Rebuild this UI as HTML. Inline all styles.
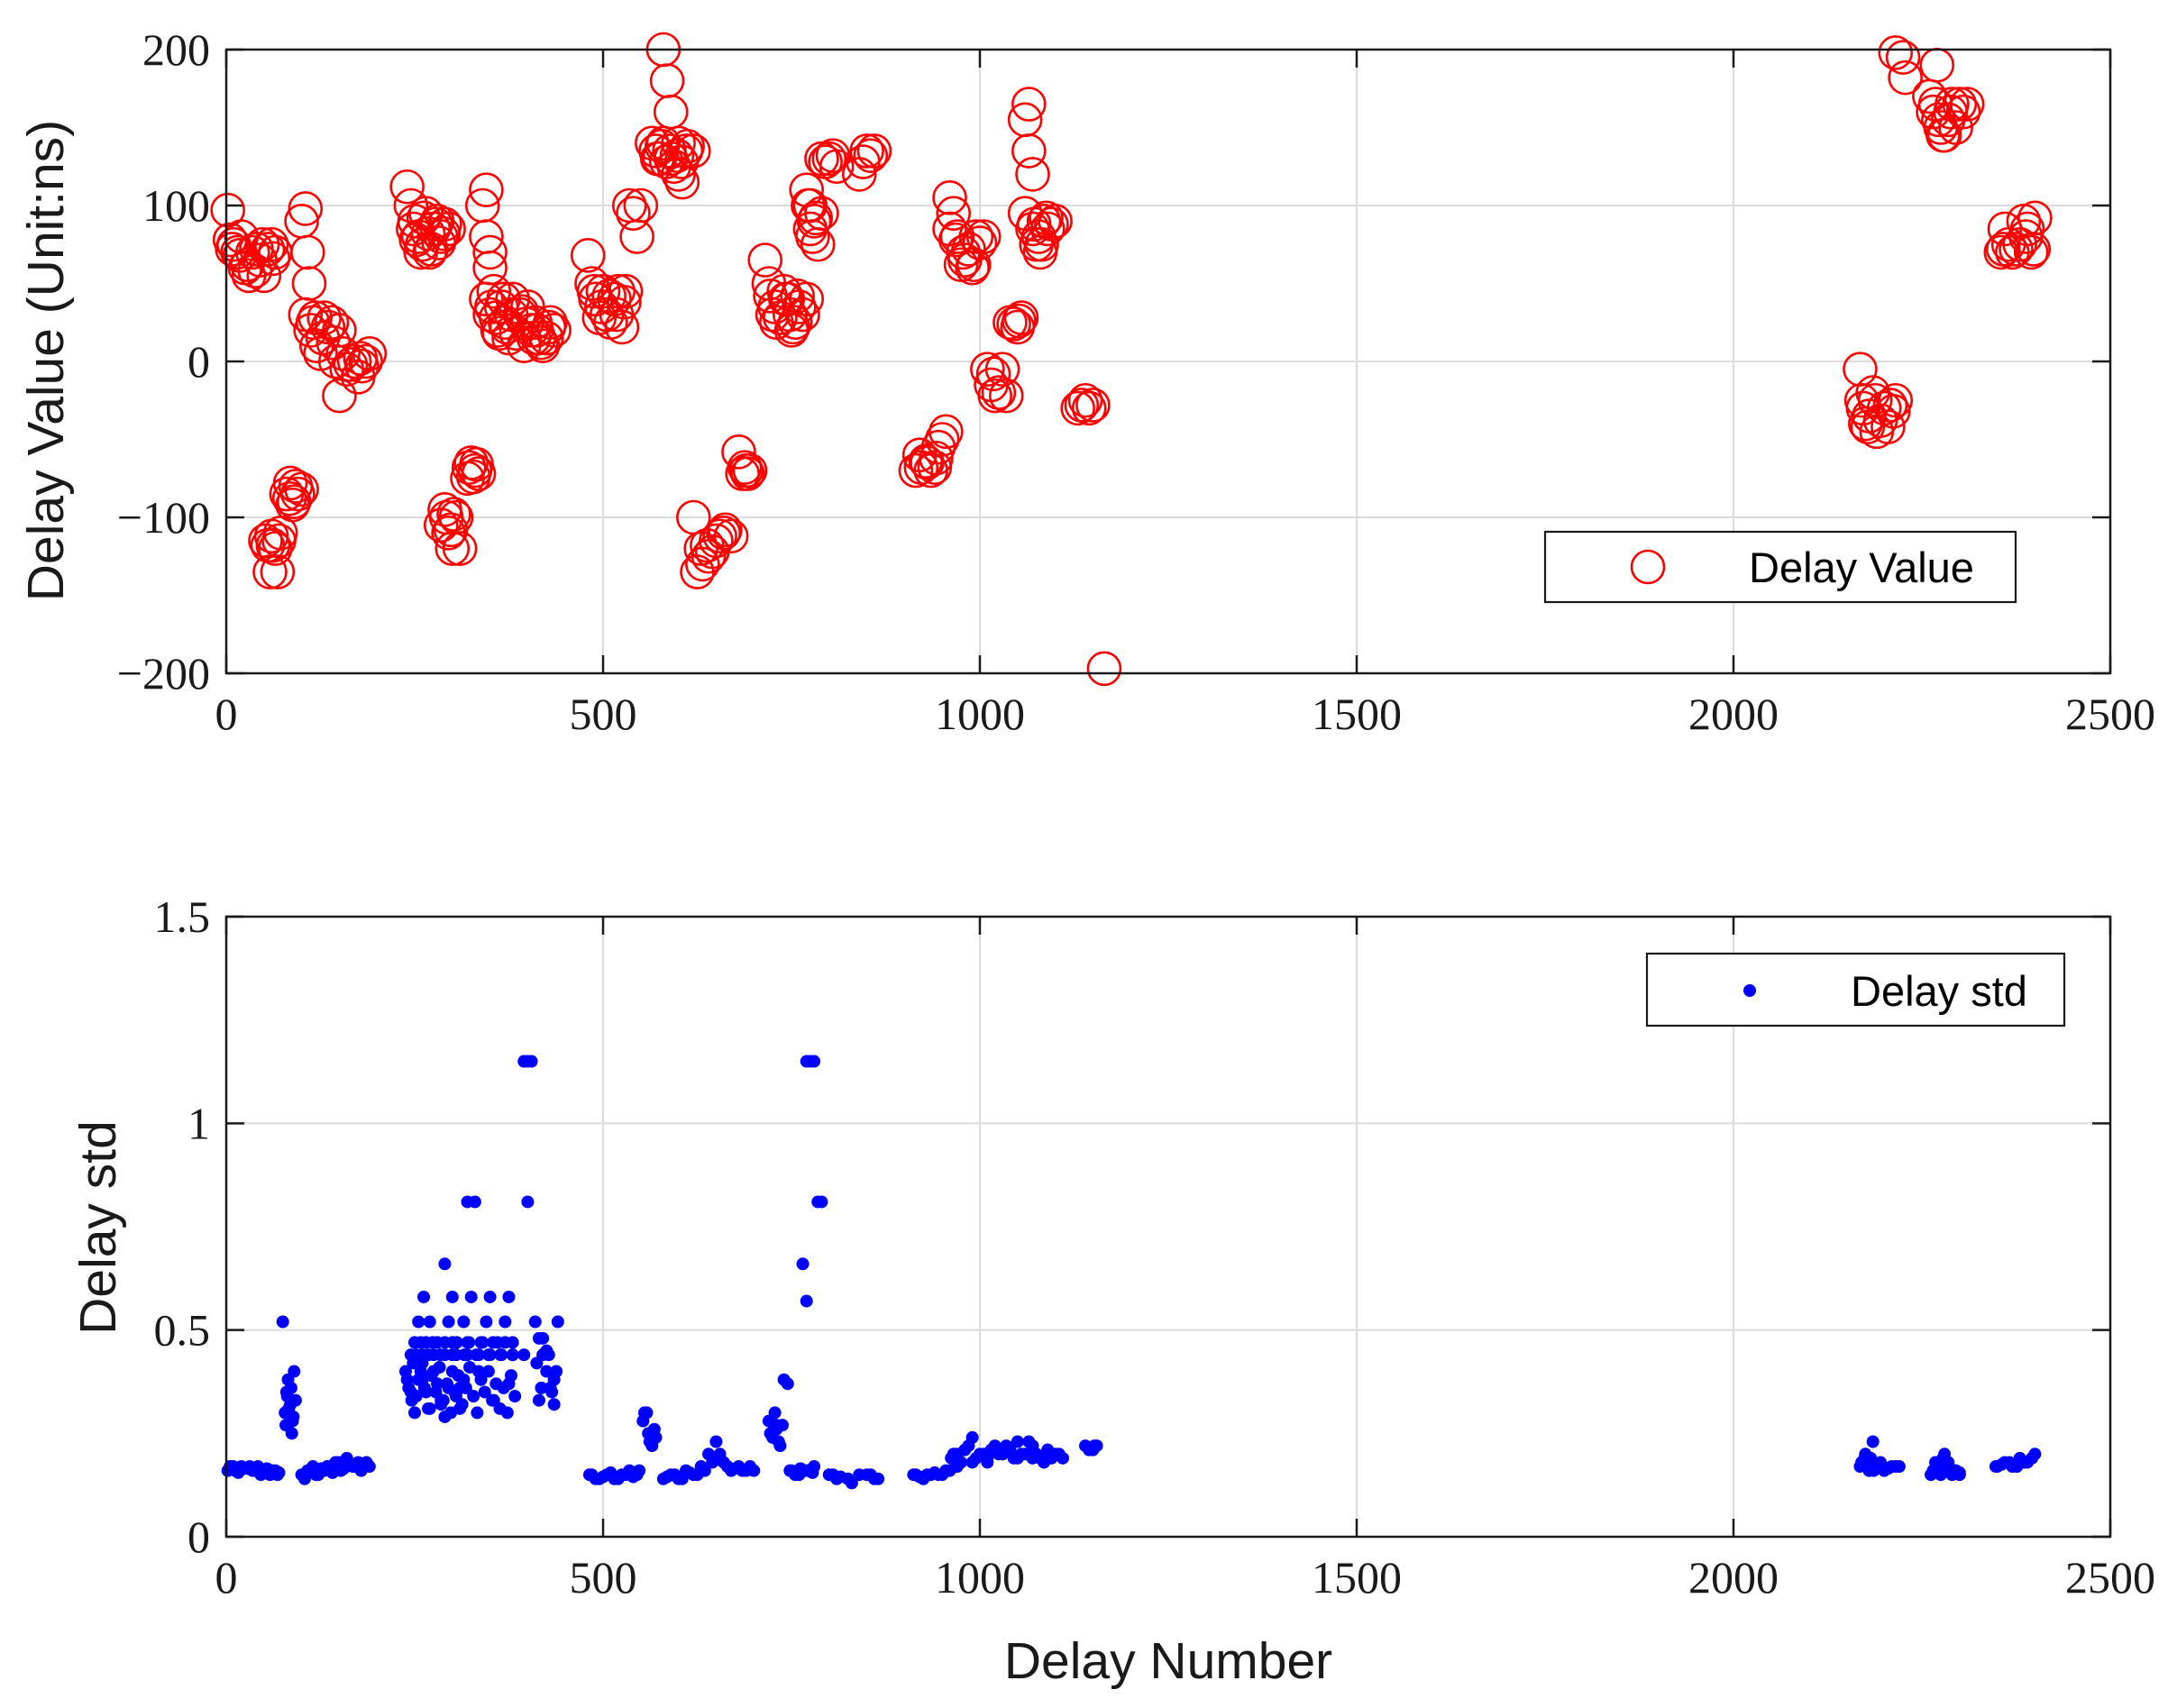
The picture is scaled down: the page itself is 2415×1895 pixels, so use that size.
<!DOCTYPE html>
<html><head><meta charset="utf-8"><style>
html,body{margin:0;padding:0;background:#fff;}
svg{display:block;}
.tick{font-family:"Liberation Serif",serif;font-size:50px;fill:#1a1a1a;}
.lab{font-family:"Liberation Sans",sans-serif;font-size:57px;fill:#1a1a1a;}
.leg{font-family:"Liberation Sans",sans-serif;font-size:47px;fill:#000;}
</style></head><body>
<svg id="fig" width="2415" height="1895" viewBox="0 0 2415 1895" xmlns="http://www.w3.org/2000/svg">
<g id="top"></g>
<g id="bot"></g>
</svg>
<script>
const xTicks = [0, 500, 1000, 1500, 2000, 2500];
const xTickLabels = ["0", "500", "1000", "1500", "2000", "2500"];
const yTicksTop = [-200, -100, 0, 100, 200];
const yTickLabelsTop = ["\u2212200", "\u2212100", "0", "100", "200"];
const yTicksBot = [0, 0.5, 1, 1.5];
const yTickLabelsBot = ["0", "0.5", "1", "1.5"];

const delayX = [2,5,10,15,20,25,30,35,40,45,50,55,60,65,
55,60,65,70,58,68, 80,85,90,95,100, 100,105,108,110,
105,115,120,125,130,140,150,145,150,160,170,180,190,175,
240,245,250,255,260,265,270,275,280,285,290,295,
285,290,295,300,310,305, 320,325,330,335,
340,345,345,350,350,355,345,350,360,365,370,380,390,400,405,410,415,420,425,430,435,375,395,
480,485,490,495,500,505,510,515,520,525,530, 535,540,545,550,
570,575,580,585,590,580,590,600,610,620,600,605,565,
620,625,630,640,650,660,670, 680,685,690,695,
715,720,725,730,740,745,750,760,770,755,
770,775,780,775,785,790, 790,800,810,840,850,860,
915,920,930,940,945,950,955,
960,965,960,970,975,980,990,995,1005,
1010,1015,1020,1030,1035, 1040,1050,1055,
1060,1065,1065,1070,1060,1070,1075,1080,1085,1090,1100,
1130,1140,1150, 1165,
2168,2170,2175,2180,2185,2190,2200,2205,2215,
2215,2225,2228,2270,2260,2265,2275,2280,2285,2290,2300,2310,
2355,2360,2370,2380,2385,2390,2400,2395,
8,18,28,38,48,62, 52,62,72, 84,92,88, 112,118,128,135,142,155,165,178,185,
248,252,258,262,268,272,278,282,288, 292,298,302, 322,328,332,
352,358,362,368,372,378,385,392,398,408,412,418,428,
488,498,508,518,528, 572,578,584,588,594,598,604,612,
632,638,645,655,662, 688,692, 722,728,735,742,748,752,758,765,
772,778,782, 795,805,845,855, 922,928,935,942, 968,978,985,992,1000,
1018,1025, 1045,1052, 1072,1078,1082,1088,1095, 1135,1145,
2172,2178,2188,2195,2208,2212, 2268,2272,2278,2288,2295,2305, 2358,2365,2375,2388,2398];
const delayY = [97,78,75,70,80,60,55,70,72,65,55,72,75,70,
-118,-112,-120,-115,-135,-135, -85,-78,-90,-85,-82, 90,98,70,50,
30,25,10,5,28,25,20,0,-22,-5,0,-3,5,-10,
112,100,90,80,75,95,70,85,90,80,88,85,
-105,-95,-110,-120,-120,-100, -75,-65,-70,-72,
100,110,80,70,60,45,40,30,20,35,25,40,30,35,20,25,15,10,15,25,20,15,10,
68,50,40,28,45,30,25,40,45,22,45, 100,95,80,100,
135,130,200,180,160,140,130,140,135,135,120,115,140,
-100,-135,-120,-125,-115,-110,-112, -58,-72,-70,-70,
65,50,30,25,45,40,20,35,40,25,
110,100,90,85,75,95, 130,130,125,120,135,135,
-70,-60,-65,-68,-55,-50,-45,
105,95,85,80,62,65,60,80,80,
-5,-15,-22,-5,-22, 25,22,28,
155,165,135,120,95,85,75,70,90,85,90,
-30,-25,-28, -197,
-5,-25,-40,-35,-20,-45,-30,-42,-25,
198,195,182,190,170,160,150,145,155,165,165,165,
70,85,70,75,90,85,92,70,
72,68,62,58,75,66, -115,-118,-110, -88,-80,-92, 20,28,15,22,12,5,-2,2,0,
85,78,70,92,82,72,88,76,82, -100,-108,-98, -68,-74,-66,
35,28,18,40,22,30,18,32,24,15,20,12,22,
45,35,42,30,38, 130,138,128,135,125,132,128,138,
-130,-118,-122,-112,-108, -68,-72, 42,35,28,40,30,22,42,30,
100,80,92, 128,132,128,132, -68,-64,-70,-62, 78,70,72,62,76,
-8,-20, 24,26, 88,80,75,92,88, -28,-30,
-30,-42,-25,-38,-28,-32, 165,155,145,160,150,160, 72,75,72,80,72];

const stdX = [5,12,20,28,35,42,50,58,65,70,
75,78,80,82,85,88,90,92,
100,108,115,122,130,138,145,152,160,168,175,182,190,
238,242,246,250,255,260,265,270,275,280,285,290,295,300,305,310,315,
245,260,275,290,305,320,335,350,365,380,395,
250,265,280,300,320,340,360,380,
255,270,295,315,345,370,
262,300,325,350,375,
245,260,285,310,335,355,375,
290, 320,330, 395,400,405, 400,
410,415,420,425,430,435,440,415,425,435,420,
485,495,505,515,525,535,545,
555,560,565,570,558,
580,590,600,610,620,630,640,650,660,670,680,690,700,
720,725,730,735,740,745,730,
750,760,770,780, 765,770,770,775,780,785,790,
800,810,830,850,860,
915,925,935,945,955,
965,975,985,995,1005,1015,1025,1035,1045,1055,1065,1075,1085,1095,1105,1140,1150,1155,
970,990,1010,1030,1050,1070,1090,
2170,2175,2180,2185,2190,2195,2200,2210,2220,2182,
2265,2270,2275,2280,2285,2290,2295,2300,2278,
2350,2360,2370,2380,2390,2400,2385,
2,9,16,24,31,38,46,54,61,68, 79,83,86,89,81,87, 104,111,119,126,134,141,149,156,164,171,179,186,
240,248,252,258,263,268,272,278,283,288,293,298,303,308,313,318,323,328,333,338,343,348,353,358,363,368,373,378,383,
252,268,284,300,316,332,348,364,380, 258,274,290,306,322,338,354,370,
412,418,428,432,438, 482,490,500,510,520,530,540,548, 553,562,568,
585,595,605,615,625,635,645,655,665,675,685,695, 722,728,733,738, 748,755,762,772,778,
805,815,825,840,855,865, 912,920,930,940,950,960,
962,970,980,990,1000,1010,1020,1030,1040,1050,1060,1070,1080,1090,1100,1110,1145,1152,
2168,2174,2178,2186,2192,2198,2205,2215, 2262,2268,2276,2282,2288,2294,2300, 2348,2356,2366,2376,2386,2396];
const stdY = [0.17,0.16,0.17,0.165,0.16,0.17,0.16,0.15,0.16,0.155,
0.52,0.3,0.35,0.38,0.32,0.28,0.4,0.33,
0.15,0.16,0.17,0.15,0.16,0.17,0.18,0.16,0.19,0.17,0.18,0.175,0.17,
0.4,0.36,0.33,0.3,0.38,0.42,0.35,0.31,0.4,0.37,0.33,0.29,0.36,0.4,0.34,0.31,0.38,
0.44,0.44,0.44,0.44,0.44,0.44,0.44,0.44,0.44,0.44,0.44,
0.47,0.47,0.47,0.47,0.47,0.47,0.47,0.47,
0.52,0.52,0.52,0.52,0.52,0.52,
0.58,0.58,0.58,0.58,0.58,
0.35,0.38,0.32,0.36,0.4,0.33,0.37,
0.66, 0.81,0.81, 1.15,1.15,1.15, 0.81,
0.52,0.48,0.44,0.4,0.36,0.32,0.52,0.33,0.45,0.38,0.48,
0.15,0.14,0.15,0.14,0.15,0.16,0.15,
0.3,0.25,0.22,0.24,0.3,
0.14,0.15,0.14,0.16,0.15,0.17,0.2,0.23,0.18,0.16,0.17,0.16,0.16,
0.28,0.24,0.26,0.22,0.38,0.37,0.27,
0.16,0.15,0.16,0.17, 0.66,0.57,1.15,1.15,1.15,0.81,0.81,
0.15,0.14,0.13,0.15,0.14,
0.15,0.14,0.15,0.15,0.16,
0.2,0.18,0.22,0.19,0.2,0.21,0.2,0.22,0.19,0.2,0.23,0.2,0.18,0.19,0.2,0.22,0.21,0.22,
0.17,0.24,0.18,0.2,0.23,0.19,0.21,
0.18,0.2,0.16,0.23,0.17,0.18,0.16,0.17,0.17,0.19,
0.16,0.17,0.15,0.2,0.18,0.15,0.16,0.15,0.19,
0.17,0.18,0.17,0.19,0.18,0.2,0.18,
0.16,0.17,0.155,0.165,0.17,0.16,0.15,0.165,0.16,0.15, 0.27,0.31,0.36,0.29,0.34,0.25,
0.14,0.16,0.15,0.165,0.17,0.155,0.18,0.165,0.175,0.17,0.16,0.18,
0.38,0.42,0.34,0.4,0.36,0.31,0.39,0.35,0.41,0.33,0.37,0.3,0.35,0.39,0.32,0.36,0.41,0.34,0.3,0.38,0.35,0.4,0.33,0.37,0.31,0.36,0.3,0.39,0.34,
0.44,0.44,0.44,0.44,0.44,0.44,0.44,0.44,0.44, 0.47,0.47,0.47,0.47,0.47,0.47,0.47,0.47,
0.42,0.36,0.44,0.35,0.4, 0.15,0.14,0.145,0.155,0.14,0.15,0.145,0.16, 0.28,0.23,0.26,
0.145,0.15,0.14,0.155,0.15,0.16,0.18,0.2,0.17,0.165,0.16,0.17, 0.25,0.3,0.23,0.27, 0.16,0.15,0.165,0.16,0.155,
0.15,0.145,0.14,0.15,0.15,0.14, 0.15,0.145,0.15,0.155,0.15,0.16,
0.19,0.2,0.21,0.18,0.2,0.19,0.22,0.2,0.21,0.19,0.2,0.22,0.19,0.21,0.2,0.19,0.21,0.22,
0.17,0.19,0.18,0.16,0.17,0.17,0.165,0.17, 0.15,0.18,0.16,0.17,0.155,0.16,0.155, 0.17,0.175,0.18,0.17,0.18,0.19];

const NS = "http://www.w3.org/2000/svg";
function mk(parent, tag, attrs, text) {
  const e = document.createElementNS(NS, tag);
  for (const k in attrs) e.setAttribute(k, attrs[k]);
  if (text !== undefined) e.textContent = text;
  parent.appendChild(e);
  return e;
}
const L = 251, R = 2341;
function sx(v) { return L + (v - 0) / 2500 * (R - L); }

function drawAxes(g, T, B, ymin, ymax, yt, ytl) {
  const sy = v => B - (v - ymin) / (ymax - ymin) * (B - T);
  const grid = mk(g, "g", {});
  
  
  xTicks.forEach(v => mk(grid, "line", {x1: sx(v), x2: sx(v), y1: T, y2: B, stroke: "#dcdcdc", "stroke-width": 2}));
  yt.forEach(v => mk(grid, "line", {x1: L, x2: R, y1: sy(v), y2: sy(v), stroke: "#dcdcdc", "stroke-width": 2}));
  const ticks = mk(g, "g", {stroke: "#1a1a1a", "stroke-width": 2.5});
  
  
  xTicks.forEach(v => {
    mk(ticks, "line", {x1: sx(v), x2: sx(v), y1: B, y2: B - 20});
    mk(ticks, "line", {x1: sx(v), x2: sx(v), y1: T, y2: T + 20});
  });
  yt.forEach(v => {
    mk(ticks, "line", {x1: L, x2: L + 20, y1: sy(v), y2: sy(v)});
    mk(ticks, "line", {x1: R, x2: R - 20, y1: sy(v), y2: sy(v)});
  });
  xTicks.forEach((v, i) => {
    const t = mk(g, "text", {x: sx(v), y: B + 62, "text-anchor": "middle", class: "tick"}, xTickLabels[i]);
    
    
  });
  yt.forEach((v, i) => {
    const t = mk(g, "text", {x: L - 18, y: sy(v) + 17, "text-anchor": "end", class: "tick"}, ytl[i]);
    
    
  });
  return sy;
}
function drawBox(g, T, B) {
  const b = mk(g, "rect", {x: L, y: T, width: R - L, height: B - T, fill: "none", stroke: "#1a1a1a", "stroke-width": 2.5});
  
  
}

const gt = document.getElementById("top");
const T1 = 55, B1 = 747;
const sy1 = drawAxes(gt, T1, B1, -200, 200, yTicksTop, yTickLabelsTop);
const s1 = mk(gt, "g", {fill: "none", stroke: "#ff0000", "stroke-width": 2.6});


delayX.forEach((x, i) => {
  const c = mk(s1, "circle", {cx: sx(x), cy: sy1(delayY[i]), r: 18});
  
  
});
drawBox(gt, T1, B1);
const yl1 = mk(gt, "text", {x: 0, y: 0, "text-anchor": "middle", class: "lab", transform: "translate(70,400) rotate(-90)"}, "Delay Value (Unit:ns)");


const lg1 = mk(gt, "g", {});


mk(lg1, "rect", {x: 1714, y: 590, width: 522, height: 78, fill: "#fff", stroke: "#1a1a1a", "stroke-width": 2.2});
mk(lg1, "circle", {cx: 1828, cy: 629, r: 18, fill: "none", stroke: "#ff0000", "stroke-width": 2.6});
const lt1 = mk(lg1, "text", {x: 1940, y: 646, class: "leg"}, "Delay Value");



const gb = document.getElementById("bot");
const T2 = 1017, B2 = 1705;
const sy2 = drawAxes(gb, T2, B2, 0, 1.5, yTicksBot, yTickLabelsBot);
const s2 = mk(gb, "g", {fill: "#0000ff"});


stdX.forEach((x, i) => {
  const c = mk(s2, "circle", {cx: sx(x), cy: sy2(stdY[i]), r: 7});
  
  
});
drawBox(gb, T2, B2);
const yl2 = mk(gb, "text", {x: 0, y: 0, "text-anchor": "middle", class: "lab", transform: "translate(128,1362) rotate(-90)"}, "Delay std");


const xl = mk(gb, "text", {x: 1296, y: 1862, "text-anchor": "middle", class: "lab"}, "Delay Number");


const lg2 = mk(gb, "g", {});


mk(lg2, "rect", {x: 1827, y: 1058, width: 463, height: 80, fill: "#fff", stroke: "#1a1a1a", "stroke-width": 2.2});
mk(lg2, "circle", {cx: 1941, cy: 1099, r: 7, fill: "#0000ff"});
const lt2 = mk(lg2, "text", {x: 2053, y: 1116, class: "leg"}, "Delay std");


</script>
</body></html>
